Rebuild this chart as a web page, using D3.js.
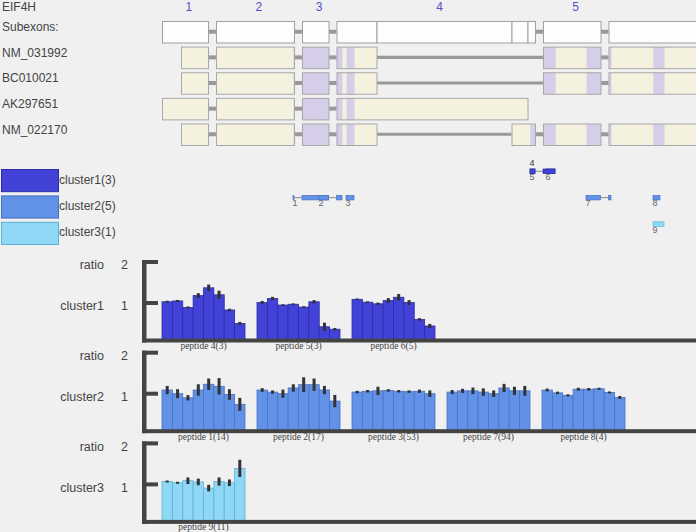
<!DOCTYPE html>
<html><head><meta charset="utf-8">
<script src="https://cdn.jsdelivr.net/npm/d3@7/dist/d3.min.js"></script>
<style>
html,body{margin:0;padding:0;background:#f0f0f0;}
svg{display:block;font-family:"Liberation Sans",Arial,sans-serif;}
</style>
</head><body>
<svg id="chart" width="696" height="532"></svg>
<script>
// ---------------- DATA ----------------
const geneName = "EIF4H";
const exonNames = ["1","2","3","4","5","6"];
// subexons in collapsed gene coordinates (introns shortened), grouped by exon
const subexonExon  = [0, 1, 2, 3, 3, 3, 3, 4, 5];
const subexonStart = [0, 108, 280, 349, 429, 699, 731, 762, 893];
const subexonEnd   = [92, 264, 333, 429, 699, 731, 746, 877, 1300];

const transcriptNames = ["NM_031992", "BC010021", "AK297651", "NM_022170"];
const tx_NM_031992 = [[38,92],[108,264],[280,333],[349,429],[762,877],[893,1300]];
const tx_BC010021  = [[38,92],[108,264],[280,333],[349,429],[762,877],[893,1300]];
const tx_AK297651  = [[0,92],[108,264],[280,333],[349,731]];
const tx_NM_022170 = [[38,92],[108,264],[280,333],[349,429],[699,746],[762,877],[893,1300]];
const transcriptSegments = [tx_NM_031992, tx_BC010021, tx_AK297651, tx_NM_022170];

const clusterNames = ["cluster1", "cluster2", "cluster3"];
const peptideIds      = [1, 2, 3, 4, 5, 6, 7, 8, 9];
const peptideCluster  = [1, 1, 1, 0, 0, 0, 1, 1, 2];
const peptideCounts   = [14, 17, 53, 3, 3, 5, 94, 4, 11];
const peptideSegments = [
  [[262,264],[280,333]],
  [[314,333],[349,360]],
  [[368,384]],
  [[736,746]],
  [[736,746],[762,786]],
  [[768,786]],
  [[848,877],[893,898]],
  [[982,996]],
  [[982,1004]]
];
const clusterPeptides = [[4,5,6],[1,2,3,7,8],[9]];

const ratio_p1 = [1.09, 1.00, 0.90, 1.09, 1.23, 1.18, 0.98, 0.74];
const err_p1   = [0.10, 0.11, 0.065, 0.14, 0.14, 0.20, 0.13, 0.16];
const ratio_p2 = [1.09, 1.04, 1.00, 1.14, 1.22, 1.22, 1.09, 0.82];
const err_p2   = [0.045, 0.04, 0.10, 0.09, 0.18, 0.15, 0.10, 0.15];
const ratio_p3 = [1.04, 1.06, 1.07, 1.08, 1.06, 1.05, 1.06, 1.00];
const err_p3   = [0.03, 0.03, 0.10, 0.03, 0.03, 0.03, 0.04, 0.08];
const ratio_p4 = [1.03, 1.05, 0.89, 1.18, 1.37, 1.20, 0.83, 0.50];
const err_p4   = [0.025, 0.025, 0.025, 0.06, 0.08, 0.10, 0.03, 0.04];
const ratio_p5 = [1.01, 1.11, 0.95, 0.97, 0.90, 1.03, 0.42, 0.36];
const err_p5   = [0.04, 0.04, 0.02, 0.02, 0.02, 0.04, 0.10, 0.03];
const ratio_p6 = [1.09, 1.02, 0.98, 1.06, 1.14, 1.01, 0.60, 0.44];
const err_p6   = [0.02, 0.02, 0.03, 0.06, 0.08, 0.06, 0.03, 0.05];
const ratio_p7 = [1.04, 1.07, 1.07, 1.04, 1.00, 1.14, 1.07, 1.07];
const err_p7   = [0.05, 0.05, 0.08, 0.09, 0.08, 0.10, 0.10, 0.12];
const ratio_p8 = [1.09, 1.02, 0.96, 1.11, 1.11, 1.12, 1.03, 0.91];
const err_p8   = [0.035, 0.03, 0.025, 0.035, 0.03, 0.025, 0.025, 0.035];
const ratio_p9 = [1.07, 1.04, 1.09, 1.06, 0.91, 1.07, 1.04, 1.39];
const err_p9   = [0.025, 0.025, 0.08, 0.08, 0.08, 0.10, 0.08, 0.21];
const peptideRatios = [ratio_p1, ratio_p2, ratio_p3, ratio_p4, ratio_p5, ratio_p6, ratio_p7, ratio_p8, ratio_p9];
const peptideErrors = [err_p1, err_p2, err_p3, err_p4, err_p5, err_p6, err_p7, err_p8, err_p9];
const ratioTicks = [1, 2];

// ---------------- STYLE ----------------
const W = 696;
const clusterFill   = ["#4242d8", "#6291e8", "#8ed8f5"];
const clusterStroke = ["#2c2ca6", "#4a72c2", "#5eb2d4"];
const textColor = "#444";
const axisColor = "#444";

const svg = d3.select("#chart");
svg.append("rect").attr("width", W).attr("height", 532).attr("fill", "#f0f0f0");

// gene x scale
const x = d3.scaleLinear().domain([0, 1300]).range([162, 162 + 1300 * 0.5]);

// rows of the gene model
const rowNames = ["Subexons:"].concat(transcriptNames);
const rowY = d3.scaleBand().domain(d3.range(rowNames.length)).range([21, 21 + 5 * 24.8]).paddingInner(4 / 24.8);
const rh = rowY.bandwidth();

svg.append("text").attr("x", 2).attr("y", 11).attr("font-size", 12).attr("fill", textColor).text(geneName);

rowNames.forEach((n, i) => {
  svg.append("text").attr("x", 2).attr("y", rowY(i) + 10).attr("font-size", 12)
    .attr("fill", textColor).text(n);
});

// exon extents
const exonExtent = exonNames.map((e, ei) => {
  const idx = d3.range(subexonExon.length).filter(k => subexonExon[k] === ei);
  return [d3.min(idx, k => subexonStart[k]), d3.max(idx, k => subexonEnd[k])];
});

// exon numbers (only those whose centre lies on the page)
exonNames.forEach((e, ei) => {
  const c = (x(exonExtent[ei][0]) + x(exonExtent[ei][1])) / 2;
  if (c > W - 6) return;
  svg.append("text").attr("x", c + 0.5).attr("y", 11).attr("font-size", 12)
    .attr("fill", "#5050c8").text(e);
});

// subexon row
const g0 = svg.append("g");
const y0c = rowY(0) + rh / 2;
for (let ei = 0; ei < exonNames.length - 1; ei++) {
  g0.append("line").attr("x1", x(exonExtent[ei][1])).attr("x2", x(exonExtent[ei + 1][0]))
    .attr("y1", y0c).attr("y2", y0c).attr("stroke", "#999").attr("stroke-width", 4);
}
subexonStart.forEach((s, k) => {
  g0.append("rect").attr("x", x(s) + 0.5).attr("y", rowY(0) + 0.5)
    .attr("width", x(subexonEnd[k]) - x(s)).attr("height", rh)
    .attr("fill", "#fdfdfd").attr("stroke", "#a0a0a0").attr("stroke-width", 1);
});

// coverage of peptides
const allPepSegs = peptideSegments.flat();

transcriptSegments.forEach((segs, ti) => {
  const g = svg.append("g");
  const top = rowY(ti + 1);
  const cy = top + rh / 2;
  for (let j = 0; j < segs.length - 1; j++) {
    const long = segs[j + 1][0] - segs[j][1] > 20;
    g.append("line").attr("x1", x(segs[j][1])).attr("x2", x(segs[j + 1][0]))
      .attr("y1", cy).attr("y2", cy).attr("stroke", "#999").attr("stroke-width", long ? 3.2 : 4);
  }
  segs.forEach(s => {
    g.append("rect").attr("x", x(s[0]) + 0.5).attr("y", top + 0.5)
      .attr("width", x(s[1]) - x(s[0])).attr("height", rh).attr("fill", "#f4f2df");
    allPepSegs.forEach(p => {
      const a = Math.max(s[0], p[0]), b = Math.min(s[1], p[1]);
      if (b > a) {
        g.append("rect").attr("x", x(a) + 0.5).attr("y", top + 0.5)
          .attr("width", x(b) - x(a)).attr("height", rh).attr("fill", "#d6cde9");
      }
    });
    g.append("rect").attr("x", x(s[0]) + 0.5).attr("y", top + 0.5)
      .attr("width", x(s[1]) - x(s[0])).attr("height", rh)
      .attr("fill", "none").attr("stroke", "#a8a8a8").attr("stroke-width", 1);
  });
});

// legend + peptide map
const legY = d3.scaleBand().domain(d3.range(3)).range([169, 169 + 3 * 25]).paddingInner(4 / 25);
clusterNames.forEach((c, ci) => {
  svg.append("rect").attr("x", 1.5).attr("y", legY(ci) + 0.5).attr("width", 57).attr("height", legY.bandwidth())
    .attr("fill", clusterFill[ci]).attr("stroke", clusterStroke[ci]).attr("stroke-width", 1);
  svg.append("text").attr("x", 59).attr("y", legY(ci) + 14.5).attr("font-size", 12)
    .attr("fill", textColor).text(c + "(" + clusterPeptides[ci].length + ")");
});

peptideIds.forEach((pid, pi) => {
  const ci = peptideCluster[pi];
  const segs = peptideSegments[pi];
  const top = legY(ci);
  const ph = 4.5;
  const g = svg.append("g");
  for (let j = 0; j < segs.length - 1; j++) {
    g.append("line").attr("x1", x(segs[j][1])).attr("x2", x(segs[j + 1][0]))
      .attr("y1", top + ph / 2).attr("y2", top + ph / 2).attr("stroke", "#888").attr("stroke-width", 1);
  }
  segs.forEach(s => {
    g.append("rect").attr("x", x(s[0])).attr("y", top)
      .attr("width", Math.max(1, x(s[1]) - x(s[0]))).attr("height", ph)
      .attr("fill", clusterFill[ci]).attr("stroke", clusterStroke[ci]).attr("stroke-width", 0.7);
  });
  // label above if a later peptide of the same cluster starts at the same place
  const above = peptideIds.some((q, qi) => qi > pi && peptideCluster[qi] === ci &&
    Math.abs(peptideSegments[qi][0][0] - segs[0][0]) < 4);
  g.append("text").attr("x", x(segs[0][0]) - 0.5).attr("y", above ? top - 3 : top + 11)
    .attr("font-size", 9).attr("fill", above ? "#333" : "#666").text(pid);
});

// ---------------- RATIO PANELS ----------------
const slot = d3.scaleBand().domain(d3.range(5)).range([162, 625]).paddingInner(12 / 95);
const inner = d3.scaleBand().domain(d3.range(8)).range([0, slot.bandwidth()]);

clusterNames.forEach((c, ci) => {
  const top = 262 + ci * 90.7;
  const y = d3.scaleLinear().domain([0, 2]).range([top + 82, top]);
  const g = svg.append("g");
  const baseY = top + 78.5;

  // left labels
  g.append("text").attr("x", 104).attr("y", y(2) + 7.3).attr("text-anchor", "end")
    .attr("font-size", 12.5).attr("fill", textColor).text("ratio");
  g.append("text").attr("x", 104).attr("y", y(1) + 7.3).attr("text-anchor", "end")
    .attr("font-size", 12.5).attr("fill", textColor).text(c);
  ratioTicks.forEach(t => {
    g.append("text").attr("x", 124.5).attr("y", y(t) + 7.3).attr("text-anchor", "middle")
      .attr("font-size", 12.5).attr("fill", textColor).text(t);
  });

  // bars
  clusterPeptides[ci].forEach((pid, si) => {
    const pi = peptideIds.indexOf(pid);
    const vals = peptideRatios[pi], errs = peptideErrors[pi];
    const gx = slot(si);
    vals.forEach((v, k) => {
      g.append("rect").attr("x", gx + inner(k)).attr("y", y(v))
        .attr("width", inner.bandwidth()).attr("height", baseY - y(v))
        .attr("fill", clusterFill[ci]).attr("stroke", clusterStroke[ci]).attr("stroke-width", 0.8);
    });
    vals.forEach((v, k) => {
      const cx = gx + inner(k) + inner.bandwidth() / 2;
      g.append("line").attr("x1", cx).attr("x2", cx)
        .attr("y1", y(v - errs[k])).attr("y2", y(v + errs[k]))
        .attr("stroke", "#333").attr("stroke-width", 3);
    });
    g.append("text").attr("x", gx + slot.bandwidth() / 2).attr("y", top + 87)
      .attr("text-anchor", "middle").attr("font-family", "'Liberation Serif','Times New Roman',serif")
      .attr("font-size", 9.5).attr("fill", "#444")
      .text("peptide " + pid + "(" + peptideCounts[pi] + ")");
  });

  // axis
  g.append("rect").attr("x", 142).attr("y", y(2) - 2).attr("width", 4.5).attr("height", baseY + 2 - (y(2) - 2))
    .attr("fill", axisColor);
  ratioTicks.forEach(t => {
    g.append("rect").attr("x", 142).attr("y", y(t) - 2).attr("width", 16).attr("height", 4).attr("fill", axisColor);
  });
  g.append("rect").attr("x", 142).attr("y", baseY - 2).attr("width", W - 142).attr("height", 4).attr("fill", axisColor);
});
</script>
</body></html>
